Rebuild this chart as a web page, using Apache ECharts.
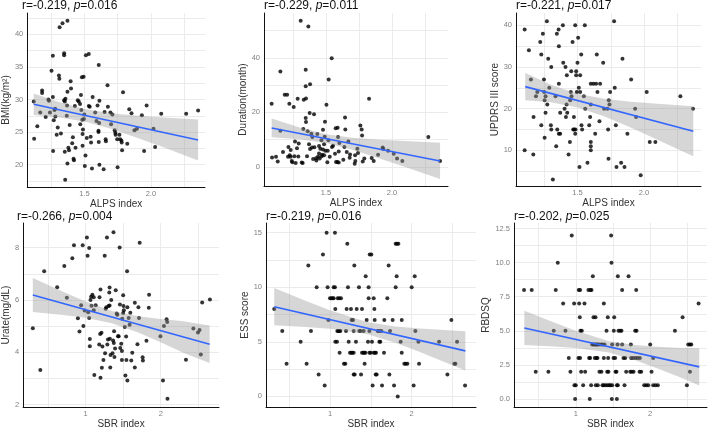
<!DOCTYPE html>
<html>
<head>
<meta charset="utf-8">
<script src="https://cdn.jsdelivr.net/npm/echarts@6/dist/echarts.min.js"></script>
<style>
  html, body { margin: 0; padding: 0; background: #fff; }
  #chart { width: 709px; height: 430px; }
</style>
</head>
<body>
<div id="chart"></div>
<script>
// ---- data ----
var bmiPts = [[1.117,29.7],[1.120,24.0],[1.144,25.9],[1.166,28.0],[1.180,31.4],[1.180,31.0],[1.207,27.3],[1.227,30.0],[1.232,29.8],[1.239,28.0],[1.251,34.4],[1.261,36.7],[1.261,30.4],[1.263,22.1],[1.268,26.8],[1.273,28.4],[1.278,28.6],[1.280,27.4],[1.290,24.6],[1.298,25.7],[1.307,33.7],[1.310,33.2],[1.312,41.1],[1.334,41.7],[1.371,42.1],[1.322,24.8],[1.346,37.1],[1.346,36.8],[1.346,29.9],[1.351,29.7],[1.356,30.1],[1.351,22.0],[1.354,17.7],[1.371,31.2],[1.368,29.1],[1.366,27.5],[1.371,20.2],[1.378,22.6],[1.383,22.2],[1.388,26.1],[1.395,32.8],[1.398,31.7],[1.407,23.3],[1.412,24.2],[1.417,20.9],[1.420,20.7],[1.427,29.0],[1.432,22.6],[1.449,29.9],[1.456,29.7],[1.466,29.3],[1.468,26.2],[1.473,30.7],[1.476,28.4],[1.480,33.4],[1.493,33.5],[1.483,26.9],[1.485,22.9],[1.485,24.7],[1.488,25.4],[1.495,27.0],[1.498,27.7],[1.502,19.8],[1.507,21.4],[1.510,36.8],[1.517,24.1],[1.532,37.0],[1.532,29.0],[1.539,28.9],[1.546,24.3],[1.549,23.4],[1.556,19.4],[1.561,30.4],[1.580,28.0],[1.590,26.7],[1.598,29.1],[1.607,35.3],[1.612,29.8],[1.605,25.2],[1.605,25.0],[1.607,23.5],[1.612,20.0],[1.610,26.4],[1.644,19.3],[1.651,28.1],[1.673,32.2],[1.676,28.9],[1.659,23.9],[1.661,23.6],[1.695,28.0],[1.700,26.2],[1.710,27.7],[1.727,25.3],[1.732,24.9],[1.734,24.6],[1.746,23.9],[1.749,19.6],[1.763,24.6],[1.768,23.9],[1.778,23.7],[1.780,23.4],[1.783,22.2],[1.790,31.1],[1.822,23.2],[1.837,28.5],[1.854,27.9],[1.876,25.3],[1.895,25.5],[1.932,27.6],[1.949,22.1],[1.968,29.1],[2.020,25.5],[2.032,22.7],[2.078,27.8],[2.266,27.8],[2.356,28.3]];
var bmiLine = [[1.117,29.26],[2.356,23.80]];
var bmiBand = [[1.117,27.61,30.91],[1.3,27.26,29.64],[1.5,26.61,28.53],[1.7,25.50,27.88],[1.9,24.11,27.51],[2.1,22.62,27.24],[2.356,20.65,26.95]];

var durPts = [[1.088,23.2],[1.091,3.5],[1.121,3.7],[1.134,2.0],[1.154,35.0],[1.154,13.3],[1.174,5.5],[1.187,26.5],[1.205,26.5],[1.212,3.7],[1.215,7.3],[1.222,23.2],[1.225,4.3],[1.232,6.2],[1.232,3.7],[1.240,2.2],[1.245,1.7],[1.255,22.0],[1.260,3.9],[1.265,9.3],[1.270,1.5],[1.280,6.9],[1.285,25.0],[1.290,3.8],[1.293,8.6],[1.308,53.6],[1.316,1.6],[1.323,1.5],[1.328,13.9],[1.331,24.6],[1.346,35.6],[1.346,29.6],[1.346,17.9],[1.348,25.1],[1.348,16.5],[1.356,3.9],[1.361,13.1],[1.366,51.5],[1.371,8.3],[1.376,19.8],[1.379,30.3],[1.379,6.6],[1.389,12.2],[1.394,7.1],[1.396,11.0],[1.402,2.9],[1.409,19.3],[1.412,7.2],[1.424,3.2],[1.427,2.4],[1.434,12.1],[1.439,3.7],[1.447,4.9],[1.447,7.7],[1.452,3.1],[1.457,6.7],[1.465,9.8],[1.467,3.9],[1.472,4.5],[1.477,13.6],[1.477,6.4],[1.485,4.3],[1.485,8.3],[1.490,11.1],[1.492,16.6],[1.495,5.9],[1.503,22.8],[1.510,1.7],[1.513,5.9],[1.518,9.8],[1.520,32.0],[1.528,3.7],[1.543,39.8],[1.545,7.3],[1.553,7.8],[1.568,4.8],[1.573,14.2],[1.576,1.8],[1.586,1.8],[1.588,14.4],[1.591,11.0],[1.596,1.6],[1.596,5.7],[1.601,8.8],[1.631,2.6],[1.639,7.3],[1.644,18.1],[1.646,13.7],[1.657,5.5],[1.669,9.3],[1.679,3.4],[1.682,4.6],[1.717,1.2],[1.722,2.2],[1.720,4.3],[1.737,6.7],[1.742,5.1],[1.760,15.2],[1.770,13.7],[1.773,11.5],[1.778,2.0],[1.790,3.1],[1.826,25.0],[1.846,3.3],[1.861,2.2],[1.894,4.5],[1.929,7.1],[1.934,6.6],[1.970,5.9],[2.013,4.8],[2.038,3.1],[2.078,2.2],[2.275,11.0],[2.364,2.2]];
var durLine = [[1.088,14.3],[2.364,2.2]];
var durBand = [[1.088,10.85,17.75],[1.3,10.11,14.47],[1.5,8.81,11.97],[1.7,6.32,10.68],[1.9,3.22,9.98],[2.1,-0.05,9.47],[2.364,-4.45,8.85]];

var updrsPts = [[1.103,39],[1.103,10],[1.135,34],[1.150,27],[1.168,9],[1.170,18],[1.188,23],[1.198,24],[1.220,36],[1.228,33],[1.228,16],[1.240,38],[1.248,27],[1.250,24],[1.253,22],[1.253,13],[1.260,23],[1.260,19],[1.270,41],[1.273,21],[1.280,32],[1.288,25],[1.300,16],[1.303,30],[1.303,15],[1.315,3],[1.335,23],[1.340,11],[1.345,38],[1.348,15],[1.358,39],[1.360,35],[1.360,26],[1.360,14],[1.370,19],[1.370,14],[1.390,40],[1.393,31],[1.403,20],[1.410,30],[1.413,18],[1.418,21],[1.420,28],[1.423,19],[1.433,9],[1.443,12],[1.445,22],[1.450,24],[1.453,29],[1.455,23],[1.463,36],[1.468,15],[1.473,18],[1.475,15],[1.483,40],[1.483,14],[1.485,15],[1.490,29],[1.490,28],[1.495,24],[1.500,31],[1.505,37],[1.510,25],[1.515,6],[1.520,28],[1.520,24],[1.528,33],[1.530,16],[1.535,15],[1.548,23],[1.555,40],[1.558,20],[1.575,7],[1.588,16],[1.595,18],[1.600,26],[1.600,21],[1.600,12],[1.600,11],[1.600,10],[1.620,26],[1.633,14],[1.640,26],[1.645,33],[1.650,24],[1.665,17],[1.670,26],[1.693,31],[1.700,20],[1.725,20],[1.730,15],[1.733,8],[1.735,22],[1.740,21],[1.745,24],[1.775,41],[1.780,25],[1.788,16],[1.793,6],[1.828,7],[1.838,32],[1.853,6],[1.875,14],[1.903,27],[1.933,20],[1.940,18],[1.975,4],[2.020,24],[2.043,12],[2.085,12],[2.273,23],[2.368,20]];
var updrsLine = [[1.1075,25.28],[2.37,14.56]];
var updrsBand = [[1.1075,22.0,28.56],[1.3,21.55,25.75],[1.5,20.3,23.6],[1.7,18.15,22.35],[1.9,15.45,21.65],[2.1,12.55,21.15],[2.37,8.56,20.56]];

var uratePts = [[0.297,4.92],[0.397,3.33],[0.448,7.10],[0.621,6.49],[0.716,7.30],[0.750,6.09],[0.823,7.59],[0.845,8.09],[0.897,5.30],[0.918,4.80],[0.940,5.80],[0.961,8.09],[0.970,5.01],[0.987,5.60],[1.017,8.39],[1.026,7.69],[1.034,5.53],[1.047,5.31],[1.047,7.99],[1.056,4.51],[1.056,4.23],[1.065,6.00],[1.073,6.12],[1.078,5.78],[1.090,6.20],[1.108,6.10],[1.108,5.61],[1.116,3.14],[1.134,5.80],[1.181,4.30],[1.185,6.10],[1.198,3.03],[1.194,4.70],[1.198,6.40],[1.211,4.75],[1.216,3.41],[1.224,4.22],[1.237,3.71],[1.254,7.69],[1.259,3.97],[1.267,5.67],[1.276,5.72],[1.284,8.39],[1.289,4.30],[1.297,4.49],[1.306,5.77],[1.315,6.29],[1.319,6.48],[1.319,5.79],[1.323,4.52],[1.328,3.42],[1.332,3.90],[1.341,6.00],[1.358,3.97],[1.366,4.45],[1.371,8.59],[1.375,4.36],[1.379,4.81],[1.384,3.82],[1.392,4.15],[1.401,6.37],[1.414,5.48],[1.422,5.44],[1.431,4.62],[1.440,4.62],[1.453,8.00],[1.457,5.83],[1.461,4.17],[1.474,4.33],[1.483,4.05],[1.483,3.71],[1.487,5.28],[1.500,5.50],[1.500,6.18],[1.504,5.77],[1.509,5.61],[1.522,4.97],[1.530,3.12],[1.539,4.61],[1.543,3.71],[1.552,7.10],[1.556,5.72],[1.556,2.93],[1.573,5.31],[1.586,5.05],[1.595,5.51],[1.608,3.69],[1.621,3.99],[1.655,3.42],[1.655,5.89],[1.690,4.31],[1.703,5.72],[1.711,5.31],[1.720,8.19],[1.759,3.81],[1.763,3.69],[1.810,4.44],[1.841,5.70],[1.845,6.20],[1.996,4.62],[2.030,2.93],[2.043,5.01],[2.078,5.26],[2.086,5.16],[2.090,2.23],[2.336,3.72],[2.435,4.91],[2.496,4.76],[2.517,4.85],[2.534,3.92],[2.552,5.90],[2.655,6.02]];
var urateLine = [[0.297,6.19],[2.651,4.31]];
var urateBand = [[0.297,5.54,6.84],[0.7,5.43,6.31],[1.0,5.32,5.94],[1.35,5.11,5.58],[1.7,4.76,5.38],[2.0,4.39,5.27],[2.3,3.99,5.19],[2.651,3.59,5.03]];

var essPts = [[0.318,8],[0.416,6],[0.469,3],[0.641,5],[0.714,3],[0.735,12],[0.767,6],[0.837,10],[0.861,2],[0.914,13],[0.935,1],[0.959,15],[0.971,10],[0.980,7],[1.000,9],[1.016,9],[1.033,9],[1.045,9],[1.045,10],[1.061,10],[1.061,15],[1.065,8],[1.065,5],[1.086,5],[1.090,6],[1.102,6],[1.114,6],[1.127,6],[1.094,9],[1.114,9],[1.135,9],[1.118,4],[1.171,3],[1.188,3],[1.196,6],[1.204,8],[1.212,14],[1.220,10],[1.229,5],[1.245,4],[1.261,4],[1.273,4],[1.290,4],[1.257,8],[1.265,7],[1.282,7],[1.290,6],[1.290,2],[1.302,2],[1.298,12],[1.318,5],[1.327,8],[1.355,10],[1.359,6],[1.376,6],[1.380,2],[1.392,8],[1.392,4],[1.408,4],[1.420,4],[1.433,4],[1.412,6],[1.424,3],[1.437,11],[1.449,7],[1.465,5],[1.473,10],[1.473,9],[1.482,4],[1.498,4],[1.482,6],[1.486,13],[1.506,13],[1.514,5],[1.522,1],[1.535,9],[1.535,4],[1.543,8],[1.547,7],[1.551,4],[1.563,4],[1.559,2],[1.571,2],[1.584,6],[1.604,6],[1.604,5],[1.616,5],[1.629,6],[1.637,1],[1.661,4],[1.665,7],[1.702,9],[1.718,12],[1.727,2],[1.735,6],[1.767,7],[1.784,1],[1.804,10],[1.804,14],[1.820,14],[1.837,14],[1.816,11],[1.829,0],[1.865,5],[1.878,4],[1.878,7],[1.910,3],[1.927,3],[1.947,3],[2.000,10],[2.024,1],[2.037,11],[2.045,6],[2.082,5],[2.090,3],[2.335,5],[2.437,2],[2.486,7],[2.522,3],[2.535,3],[2.555,5],[2.653,1]];
var essLine = [[0.318,8.22],[2.657,4.17]];
var essBand = [[0.318,6.51,9.93],[0.7,6.36,8.77],[1.0,6.19,7.89],[1.45,5.71,6.81],[1.8,4.92,6.40],[2.1,4.06,6.22],[2.4,3.15,6.09],[2.657,2.37,5.97]];

var rbdPts = [[0.305,8],[0.408,8],[0.462,2],[0.632,2],[0.704,5],[0.731,8],[0.758,10],[0.830,7],[0.861,5],[0.906,3],[0.928,2],[0.946,12],[0.978,7],[0.982,1],[1.000,1],[0.991,0],[1.040,8],[1.058,8],[1.036,3],[1.058,3],[1.045,7],[1.054,6],[1.063,5],[1.081,5],[1.072,2],[1.099,1],[1.117,7],[1.126,2],[1.170,8],[1.197,8],[1.211,8],[1.179,3],[1.193,3],[1.188,0],[1.206,1],[1.229,9],[1.220,4],[1.238,4],[1.256,4],[1.269,4],[1.283,4],[1.296,4],[1.314,4],[1.238,6],[1.265,6],[1.256,3],[1.278,3],[1.291,3],[1.269,1],[1.296,1],[1.318,2],[1.345,2],[1.341,4],[1.359,4],[1.386,4],[1.359,1],[1.377,1],[1.399,1],[1.377,7],[1.377,3],[1.413,5],[1.430,6],[1.422,2],[1.439,2],[1.426,1],[1.448,1],[1.466,1],[1.435,3],[1.475,12],[1.480,10],[1.489,4],[1.489,1],[1.484,0],[1.552,0],[1.507,3],[1.529,3],[1.511,5],[1.516,6],[1.534,2],[1.547,2],[1.552,1],[1.565,1],[1.565,9],[1.561,4],[1.574,5],[1.596,5],[1.614,5],[1.623,4],[1.623,8],[1.641,3],[1.664,3],[1.655,1],[1.677,2],[1.709,9],[1.740,4],[1.744,3],[1.771,3],[1.731,2],[1.753,2],[1.776,2],[1.798,5],[1.816,5],[1.812,8],[1.803,3],[1.830,3],[1.861,3],[1.857,2],[1.879,2],[1.919,1],[1.946,1],[1.973,1],[2.000,4],[2.018,2],[2.040,3],[2.040,1],[2.072,1],[2.103,1],[2.332,5],[2.435,6],[2.493,1],[2.511,4],[2.534,4],[2.552,4],[2.534,2],[2.650,7]];
var rbdLine = [[0.309,5.21],[2.659,2.35]];
var rbdBand = [[0.309,3.95,6.47],[0.7,3.85,5.62],[1.0,3.74,5.00],[1.45,3.40,4.24],[1.8,2.84,3.96],[2.1,2.23,3.83],[2.4,1.59,3.74],[2.659,0.98,3.72]];

// grid lines (major + minor) and labelled ticks
var alpsGrid = [1.25, 1.5, 1.75, 2.0, 2.25];
var alpsTicks = [1.5, 2.0];
var sbrGrid = [0.5, 1, 1.5, 2, 2.5];
var sbrTicks = [1, 2];
var bmiGrid = [17.5, 20, 22.5, 25, 27.5, 30, 32.5, 35, 37.5, 40, 42.5];
var bmiTicks = [20, 25, 30, 35, 40];
var durGrid = [0, 10, 20, 30, 40, 50];
var durTicks = [0, 20, 40];
var updrsGrid = [5, 10, 15, 20, 25, 30, 35, 40];
var updrsTicks = [10, 20, 30, 40];
var urateGrid = [2, 3, 4, 5, 6, 7, 8];
var urateTicks = [2, 4, 6, 8];
var essGrid = [0, 2.5, 5, 7.5, 10, 12.5, 15];
var essTicks = [0, 5, 10, 15];
var rbdGrid = [0, 1.25, 2.5, 3.75, 5, 6.25, 7.5, 8.75, 10, 11.25, 12.5];
var rbdTicks = [0, 2.5, 5, 7.5, 10, 12.5];

var FONT = 'Liberation Sans, Arial, sans-serif';

var panels = [
  {pts: bmiPts, line: bmiLine, band: bmiBand, r: '-0.219', p: '0.016', xName: 'ALPS index', yName: 'BMI(kg/m\u00b2)',
   box: [22, 13, 183, 174], xr: [1.068, 2.408], yr: [16.58, 43.27], xg: alpsGrid, xt: alpsTicks, yg: bmiGrid, yt: bmiTicks,
   xf: function (v) { return v.toFixed(1); }, yf: String, xGap: 8, yGap: 11, tTop: 0},
  {pts: durPts, line: durLine, band: durBand, r: '-0.229', p: '0.011', xName: 'ALPS index', yName: 'Duration(month)',
   box: [264, 13, 184, 173], xr: [1.03, 2.424], yr: [-6.97, 56.4], xg: alpsGrid, xt: alpsTicks, yg: durGrid, yt: durTicks,
   xf: function (v) { return v.toFixed(1); }, yf: String, xGap: 8, yGap: 12, tTop: 0},
  {pts: updrsPts, line: updrsLine, band: updrsBand, r: '-0.221', p: '0.017', xName: 'ALPS index', yName: 'UPDRS III score',
   box: [516, 13, 185, 173], xr: [1.038, 2.428], yr: [1.43, 42.95], xg: alpsGrid, xt: alpsTicks, yg: updrsGrid, yt: updrsTicks,
   xf: function (v) { return v.toFixed(1); }, yf: String, xGap: 8, yGap: 10, tTop: 0},
  {pts: uratePts, line: urateLine, band: urateBand, r: '-0.266', p: '0.004', xName: 'SBR index', yName: 'Urate(mg/dL)',
   box: [17, 223, 202, 187], xr: [0.167, 2.776], yr: [1.91, 8.94], xg: sbrGrid, xt: sbrTicks, yg: urateGrid, yt: urateTicks,
   xf: String, yf: String, xGap: 6, yGap: 7, tTop: 211},
  {pts: essPts, line: essLine, band: essBand, r: '-0.219', p: '0.016', xName: 'SBR index', yName: 'ESS score',
   box: [266, 223, 210, 190], xr: [0.217, 2.787], yr: [-0.98, 15.89], xg: sbrGrid, xt: sbrTicks, yg: essGrid, yt: essTicks,
   xf: String, yf: String, xGap: 7, yGap: 14, tTop: 211},
  {pts: rbdPts, line: rbdLine, band: rbdBand, r: '-0.202', p: '0.025', xName: 'SBR index', yName: 'RBDSQ',
   box: [514, 223, 193, 188], xr: [0.17, 2.763], yr: [-0.6, 12.91], xg: sbrGrid, xt: sbrTicks, yg: rbdGrid, yt: rbdTicks,
   xf: String, yf: function (v) { return v.toFixed(1); }, xGap: 10, yGap: 16, tTop: 211}
];

var grids = [], xAxes = [], yAxes = [], titles = [], series = [];

panels.forEach(function (pn, i) {
  grids.push({left: pn.box[0], top: pn.box[1], width: pn.box[2], height: pn.box[3], containLabel: false});
  titles.push({
    text: 'r=' + pn.r + ', {i|p}=' + pn.p,
    left: pn.box[0], top: pn.tTop, padding: 0,
    textStyle: {fontFamily: FONT, fontSize: 12, fontWeight: 'normal', color: '#111',
      rich: {i: {fontFamily: FONT, fontSize: 12, fontStyle: 'italic', color: '#111'}}}
  });
  var axisLine = {show: true, onZero: false, lineStyle: {color: '#111', width: 1}};
  var split = {show: true, lineStyle: {color: '#ebebeb', width: 1}};
  xAxes.push({
    type: 'value', gridIndex: i, min: pn.xr[0], max: pn.xr[1],
    name: pn.xName, nameLocation: 'middle', nameGap: pn.xGap,
    nameTextStyle: {fontFamily: FONT, fontSize: 10, color: '#333'},
    axisLine: axisLine, splitLine: split,
    axisTick: {show: false, customValues: pn.xg},
    axisLabel: {customValues: pn.xt, formatter: pn.xf, fontFamily: FONT, fontSize: 7.5, color: '#808080', margin: 3}
  });
  yAxes.push({
    type: 'value', gridIndex: i, min: pn.yr[0], max: pn.yr[1],
    name: pn.yName, nameLocation: 'middle', nameGap: pn.yGap, nameRotate: 90,
    nameTextStyle: {fontFamily: FONT, fontSize: 10, color: '#333'},
    axisLine: axisLine, splitLine: split,
    axisTick: {show: false, customValues: pn.yg},
    axisLabel: {customValues: pn.yt, formatter: pn.yf, fontFamily: FONT, fontSize: 7.5, color: '#808080', margin: 4}
  });
  series.push({
    type: 'scatter', xAxisIndex: i, yAxisIndex: i, data: pn.pts,
    symbolSize: 4, itemStyle: {color: '#000'}, z: 2, silent: true
  });
  var band = pn.band;
  series.push({
    type: 'custom', xAxisIndex: i, yAxisIndex: i, data: band, z: 3, silent: true,
    encode: {x: 0, y: [1, 2]},
    renderItem: function (params, api) {
      if (params.dataIndex !== 0) return null;
      var up = band.map(function (d) { return api.coord([d[0], d[2]]); });
      var lo = band.slice().reverse().map(function (d) { return api.coord([d[0], d[1]]); });
      return {type: 'polygon', shape: {points: up.concat(lo)},
        style: {fill: 'rgba(153,153,153,0.4)', stroke: null}};
    }
  });
  series.push({
    type: 'line', xAxisIndex: i, yAxisIndex: i, data: pn.line, z: 4, silent: true,
    showSymbol: false, lineStyle: {color: '#3366ff', width: 1.6}
  });
});

var chart = echarts.init(document.getElementById('chart'), null, {renderer: 'canvas'});
chart.setOption({
  animation: false,
  backgroundColor: '#fff',
  title: titles,
  grid: grids,
  xAxis: xAxes,
  yAxis: yAxes,
  series: series
});
</script>
</body>
</html>
